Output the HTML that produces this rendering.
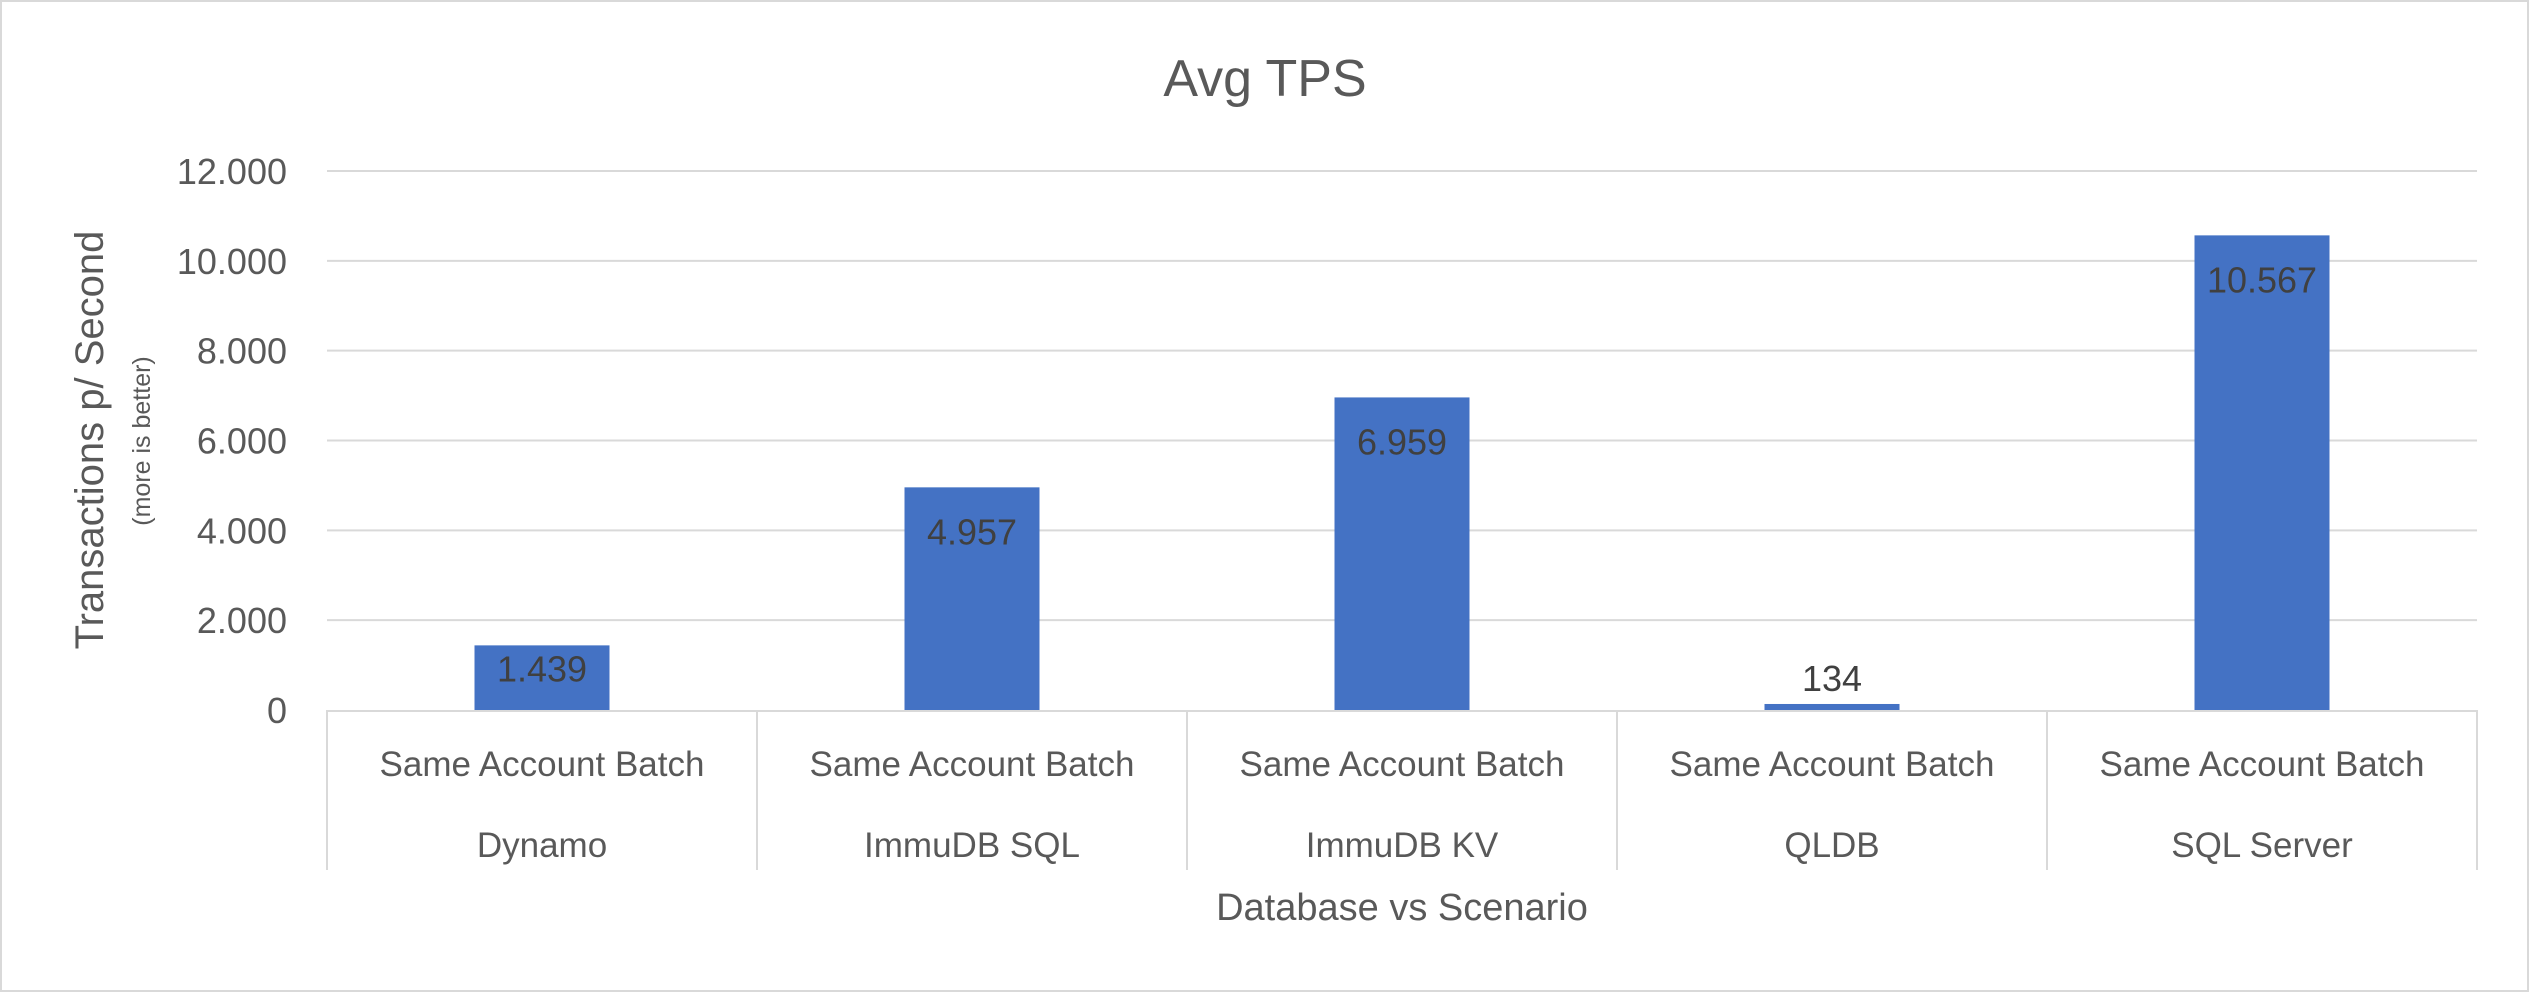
<!DOCTYPE html>
<html><head><meta charset="utf-8"><style>
html,body{margin:0;padding:0;background:#fff;}
svg{display:block;font-family:"Liberation Sans",sans-serif;}
</style></head><body>
<svg id="chart" width="2530" height="993" viewBox="0 0 2530 993" xmlns="http://www.w3.org/2000/svg">
<rect x="1" y="1" width="2527" height="990" fill="#fff" stroke="#d9d9d9" stroke-width="2"/>
<text x="1265" y="96" text-anchor="middle" font-size="52" fill="#595959">Avg TPS</text>
<g id="grid"></g>
<g id="yticks"></g>
<g id="bars"></g>
<g id="xaxis"></g>
<text transform="translate(103,440) rotate(-90)" text-anchor="middle" font-size="40" fill="#595959">Transactions p/ Second</text>
<text transform="translate(150,441) rotate(-90)" text-anchor="middle" font-size="25" fill="#595959">(more is better)</text>
<text x="1402" y="920" text-anchor="middle" font-size="38" fill="#595959">Database vs Scenario</text>
</svg>
<script>
const categories = ["Dynamo", "ImmuDB SQL", "ImmuDB KV", "QLDB", "SQL Server"];
const scenario = "Same Account Batch";
const values = [1439, 4957, 6959, 134, 10567];
const valueLabels = ["1.439", "4.957", "6.959", "134", "10.567"];
const yTicks = [0, 2000, 4000, 6000, 8000, 10000, 12000];
const yTickLabels = ["0", "2.000", "4.000", "6.000", "8.000", "10.000", "12.000"];

const NS = "http://www.w3.org/2000/svg";
const L = 327, R = 2477, T = 171, B = 710, YMAX = 12000;
const y = v => B - (v / YMAX) * (B - T);
const bandW = (R - L) / categories.length;
const xc = i => L + bandW * (i + 0.5);
const barW = 135;
function mk(tag, attrs, parent, text) {
  const e = document.createElementNS(NS, tag);
  for (const k in attrs) e.setAttribute(k, attrs[k]);
  if (text !== undefined) e.textContent = text;
  parent.appendChild(e);
  return e;
}
const grid = document.getElementById("grid");
const yt = document.getElementById("yticks");
yTicks.forEach((t, i) => {
  if (t !== 0) {
    const g = mk("line", {x1: L, x2: R, y1: y(t), y2: y(t), stroke: "#d9d9d9", "stroke-width": 2}, grid);
    
    
  }
  const lb = mk("text", {x: 287, y: y(t) + 13, "text-anchor": "end", "font-size": 36, fill: "#595959"}, yt, yTickLabels[i]);
  
  
});
const bars = document.getElementById("bars");
values.forEach((v, i) => {
  const top = y(v);
  const h = B - top;
  const r = mk("rect", {x: xc(i) - barW / 2, y: top, width: barW, height: h, fill: "#4472c4"}, bars);
  
  
  const ly = h > 150 ? top + 57 : (h > 50 ? top + 36 : top - 13);
  const t = mk("text", {x: xc(i), y: ly, "text-anchor": "middle", "font-size": 36, fill: "#404040"}, bars, valueLabels[i]);
  
  
});
const xa = document.getElementById("xaxis");
const ax = mk("line", {x1: L, x2: R, y1: B + 1, y2: B + 1, stroke: "#d9d9d9", "stroke-width": 2}, xa);


for (let i = 0; i <= categories.length; i++) {
  const sx = L + bandW * i;
  const s = mk("line", {x1: sx, x2: sx, y1: B, y2: 870, stroke: "#d9d9d9", "stroke-width": 2}, xa);
  
  
}
categories.forEach((c, i) => {
  const a = mk("text", {x: xc(i), y: 776, "text-anchor": "middle", "font-size": 35, fill: "#595959"}, xa, scenario);
  
  
  const b = mk("text", {x: xc(i), y: 857, "text-anchor": "middle", "font-size": 35, fill: "#595959"}, xa, c);
  
  
});
</script>
</body></html>
